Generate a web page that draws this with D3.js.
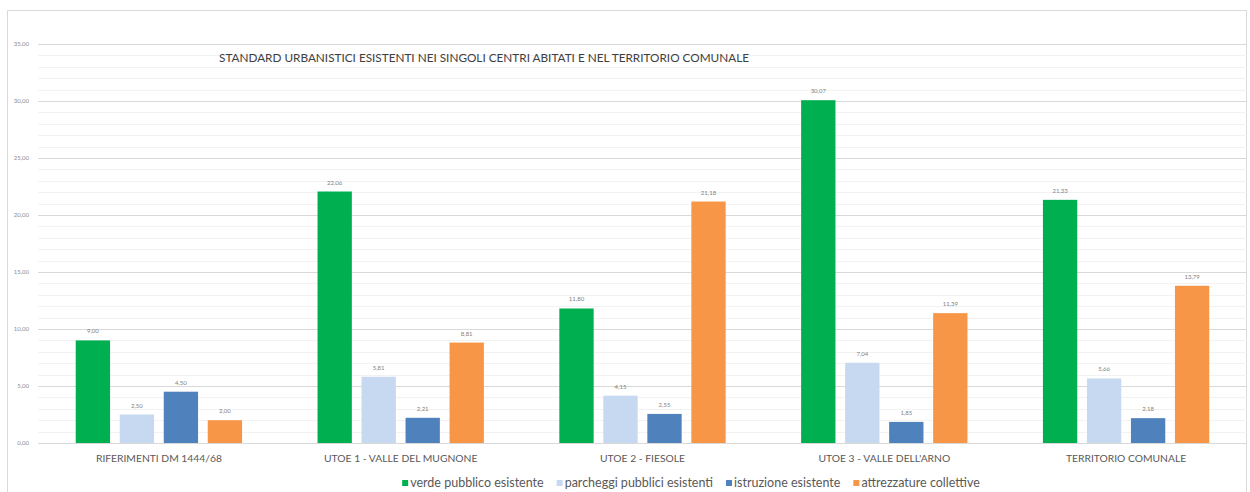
<!DOCTYPE html>
<html>
<head>
<meta charset="utf-8">
<script src="https://cdn.jsdelivr.net/npm/d3@7"></script>
<style>
  body { margin: 0; background: #fff; }
  text { font-family: Lato, "Open Sans", sans-serif; }
</style>
</head>
<body>
<div id="chart"></div>
<script>
// categories and series
const categories = ["RIFERIMENTI DM 1444/68", "UTOE 1 - VALLE DEL MUGNONE", "UTOE 2 - FIESOLE", "UTOE 3 - VALLE DELL'ARNO", "TERRITORIO COMUNALE"];
const seriesNames = ["verde pubblico esistente", "parcheggi pubblici esistenti", "istruzione esistente", "attrezzature collettive"];
const verde = [9.00, 22.06, 11.80, 30.07, 21.33];
const parcheggi = [2.50, 5.81, 4.15, 7.04, 5.66];
const istruzione = [4.50, 2.21, 2.55, 1.85, 2.18];
const attrezzature = [2.00, 8.81, 21.18, 11.39, 13.79];
const yTicks = [0, 5, 10, 15, 20, 25, 30, 35];
const title = "STANDARD URBANISTICI ESISTENTI NEI SINGOLI CENTRI ABITATI E NEL TERRITORIO COMUNALE";

const colors = ["#00b050", "#c6d9f0", "#4f81bd", "#f79646"];
const allSeries = [verde, parcheggi, istruzione, attrezzature];

const width = 1250, height = 492;
const margin = {top: 44, right: 3, bottom: 49, left: 38};

const svg = d3.select("#chart").append("svg")
    .attr("width", width)
    .attr("height", height);

// outer frame
svg.append("path")
    .attr("d", "M7.5," + height + " L7.5,10.5 L1246.5,10.5 L1246.5," + height)
    .attr("fill", "none")
    .attr("stroke", "#d9d9d9");

const x0 = d3.scaleBand()
    .domain(categories)
    .range([margin.left, width - margin.right])
    .paddingInner(0.272)
    .paddingOuter(0.136);

const x1 = d3.scaleBand()
    .domain(d3.range(seriesNames.length))
    .range([0, x0.bandwidth()])
    .paddingInner(0.22)
    .paddingOuter(0.11);

const y = d3.scaleLinear().domain([0, 35]).range([height - margin.bottom, margin.top]);

// minor gridlines
svg.append("g").selectAll("line")
    .data(d3.range(0, 36).filter(v => v % 5 !== 0))
    .join("line")
    .attr("x1", margin.left).attr("x2", width - margin.right)
    .attr("y1", d => Math.round(y(d)) + 0.5).attr("y2", d => Math.round(y(d)) + 0.5)
    .attr("stroke", "#f2f2f2");

// y axis with major gridlines
const yAxis = svg.append("g")
    .attr("transform", "translate(" + margin.left + ",0)")
    .call(d3.axisLeft(y).tickValues(yTicks)
        .tickSize(-(width - margin.right - margin.left))
        .tickPadding(9)
        .tickFormat(d => d3.format(".2f")(d).replace(".", ",")));
yAxis.select(".domain").remove();
yAxis.selectAll(".tick line").attr("stroke", "#d9d9d9");
yAxis.selectAll(".tick text").attr("fill", "#8c8c8c").style("font-size", "6px");

// bars
const groups = svg.append("g").selectAll("g")
    .data(categories)
    .join("g")
    .attr("transform", d => "translate(" + x0(d) + ",0)");

groups.selectAll("rect")
    .data((d, i) => allSeries.map((s, k) => ({k: k, v: s[i]})))
    .join("rect")
    .attr("x", d => x1(d.k))
    .attr("width", x1.bandwidth())
    .attr("y", d => y(d.v))
    .attr("height", d => y(0) - y(d.v))
    .attr("fill", d => colors[d.k]);

groups.selectAll("text")
    .data((d, i) => allSeries.map((s, k) => ({k: k, v: s[i]})))
    .join("text")
    .attr("x", d => x1(d.k) + x1.bandwidth() / 2)
    .attr("y", d => y(d.v) - 7)
    .attr("text-anchor", "middle")
    .attr("fill", "#7f7f7f")
    .style("font-size", "6px")
    .text(d => d3.format(".2f")(d.v).replace(".", ","));

// x axis labels
svg.append("g").selectAll("text")
    .data(categories)
    .join("text")
    .attr("x", d => x0(d) + x0.bandwidth() / 2)
    .attr("y", 462)
    .attr("text-anchor", "middle")
    .attr("fill", "#595959")
    .style("font-size", "10.3px")
    .text(d => d);

// title
svg.append("text")
    .attr("x", 484)
    .attr("y", 62)
    .attr("text-anchor", "middle")
    .attr("fill", "#404040")
    .style("font-size", "11.5px")
    .attr("textLength", 530)
    .attr("lengthAdjust", "spacingAndGlyphs")
    .text(title);

// legend, laid out from measured text widths and centred under the plot
const legend = svg.append("g");
let lx = 0;
seriesNames.forEach((name, i) => {
    const g = legend.append("g").attr("transform", "translate(" + lx + ",0)");
    g.append("rect").attr("x", 0).attr("y", -7).attr("width", 6).attr("height", 6).attr("fill", colors[i]);
    const t = g.append("text").attr("x", 8).attr("y", 0)
        .attr("fill", "#595959")
        .style("font-size", "12.5px")
        .text(name);
    lx += 8 + t.node().getComputedTextLength() + 13;
});
legend.attr("transform", "translate(" + (691 - (lx - 13) / 2) + ",487)");
</script>
</body>
</html>
